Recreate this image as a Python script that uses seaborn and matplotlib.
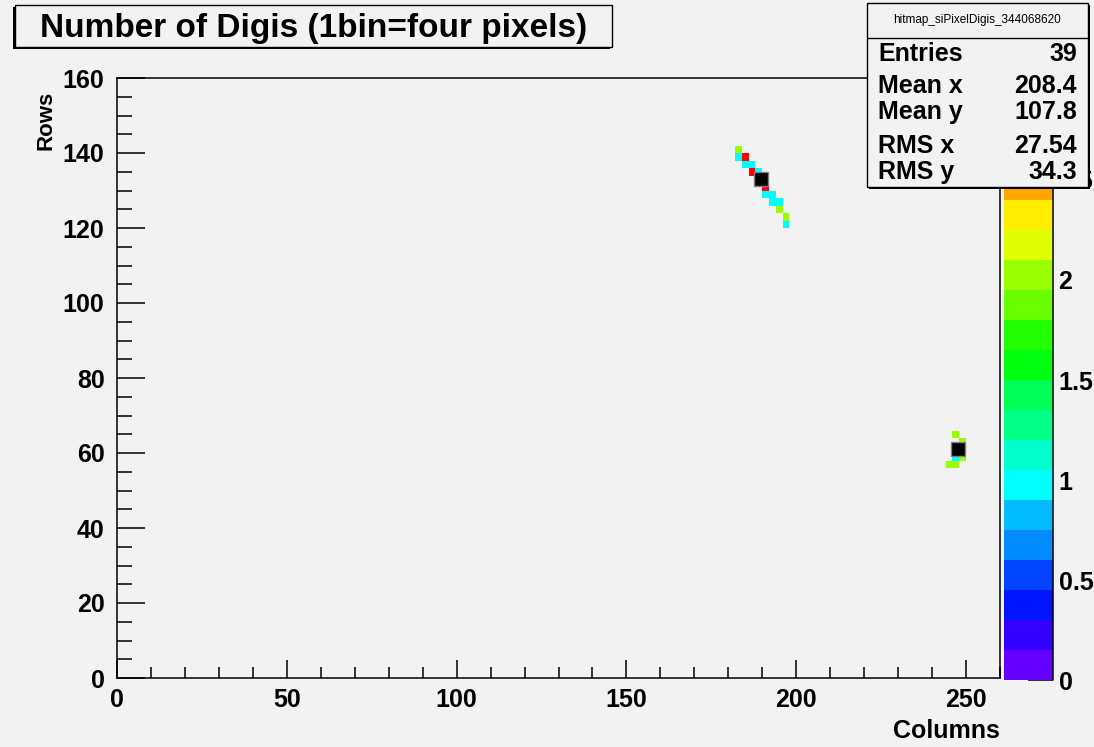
import colorsys

import numpy as np
import pandas as pd
import matplotlib
matplotlib.use("Agg")
import matplotlib.pyplot as plt
from matplotlib.colors import ListedColormap, BoundaryNorm
from matplotlib.patches import Rectangle
import seaborn as sns

# Digi hit map: lower-left corner (column, row) of each filled 2x2-pixel bin and its count
bin_col = [182, 182, 184, 184, 186, 186, 188, 188, 190, 190, 190, 192, 192, 194, 194, 196, 196,
           246, 248, 248, 248, 246, 244, 246]
bin_row = [140, 138, 138, 136, 136, 134, 134, 132, 132, 130, 128, 128, 126, 126, 124, 122, 120,
           64, 62, 60, 58, 58, 56, 56]
bin_count = [2, 1, 3, 1, 1, 3, 1, 1, 1, 3, 1, 1, 1, 1, 2, 2, 1,
             2, 2, 2, 2, 1, 2, 2]

# reconstructed cluster positions (column, row)
cluster_col = [189.5, 247.5]
cluster_row = [133.0, 61.0]

x_ticks = [0, 50, 100, 150, 200, 250]
y_ticks = [0, 20, 40, 60, 80, 100, 120, 140, 160]
z_ticks = [0, 0.5, 1, 1.5, 2, 2.5]
z_tick_labels = ["0", "0.5", "1", "1.5", "2", "2.5"]

title = "Number of Digis (1bin=four pixels)"
x_title = "Columns"
y_title = "Rows"
stats_name = "hitmap_siPixelDigis_344068620"
stats_labels = ["Entries", "Mean x", "Mean y", "RMS x", "RMS y"]
stats_values = ["39", "208.4", "107.8", "27.54", "34.3"]

N_COLS, N_ROWS, BIN = 260, 160, 2
Z_MAX, N_LEVELS = 3.0, 20

# ---------------------------------------------------------------- palette
def pretty_palette(n=50):
    """Violet -> red rainbow at fixed lightness/saturation."""
    out = []
    for i in range(n):
        hue = 280.0 - (i + 1) * 280.0 / n
        out.append(colorsys.hls_to_rgb(hue / 360.0, 0.5, 1.0))
    return out


pal = pretty_palette()
level_colors = [pal[int((k + 0.99) * len(pal) / N_LEVELS)] for k in range(N_LEVELS)]
cmap = ListedColormap(level_colors)
norm = BoundaryNorm(np.linspace(0, Z_MAX, N_LEVELS + 1), cmap.N)

# ---------------------------------------------------------------- histogram grid
grid = np.zeros((N_ROWS // BIN, N_COLS // BIN))
for c, r, v in zip(bin_col, bin_row, bin_count):
    grid[r // BIN, c // BIN] += v
hist = pd.DataFrame(grid)

# ---------------------------------------------------------------- figure
W, H = 1094, 747
BG = "#f2f2f2"
FONT = "Liberation Sans"


def fx(px):
    return px / W


def fy(py):
    return 1 - py / H


sns.set_theme(style="white")
plt.rcParams["font.family"] = [FONT, "DejaVu Sans"]
plt.rcParams["font.weight"] = "bold"
plt.rcParams["axes.labelcolor"] = "black"
plt.rcParams["text.color"] = "black"

fig = plt.figure(figsize=(W / 100, H / 100), dpi=100, facecolor=BG)
ax = fig.add_axes([fx(117), fy(678), fx(1000) - fx(117), fy(78) - fy(678)])
cax = fig.add_axes([fx(1004), fy(680), fx(1053) - fx(1004), fy(80) - fy(680)])
ax.set_facecolor(BG)

sns.heatmap(hist, mask=hist == 0, cmap=cmap, norm=norm, ax=ax, cbar_ax=cax,
            xticklabels=False, yticklabels=False)

# heatmap works in bin units; map pixel values onto it
ax.set_xlim(0, N_COLS / BIN)
ax.set_ylim(0, N_ROWS / BIN)
ax.set_xticks([t / BIN for t in x_ticks])
ax.set_xticklabels([str(t) for t in x_ticks])
ax.set_xticks(np.arange(0, N_COLS + 1, 10) / BIN, minor=True)
ax.set_yticks([t / BIN for t in y_ticks])
ax.set_yticklabels([str(t) for t in y_ticks], rotation=0)
ax.set_yticks(np.arange(0, N_ROWS + 1, 5) / BIN, minor=True)

for s in ax.spines.values():
    s.set_visible(True)
    s.set_color("black")
    s.set_linewidth(1.1)

ax.tick_params(axis="x", which="major", direction="in", length=13, width=1.1,
               labelsize=18, pad=7, color="black", bottom=True)
ax.tick_params(axis="x", which="minor", direction="in", length=8, width=1.1,
               color="black", bottom=True)
ax.tick_params(axis="y", which="major", direction="in", length=20, width=1.1,
               labelsize=18, pad=9, color="black", left=True)
ax.tick_params(axis="y", which="minor", direction="in", length=11, width=1.1,
               color="black", left=True)
for lab in ax.get_xticklabels() + ax.get_yticklabels():
    lab.set_fontweight("bold")
    lab.set_color("black")

ax.set_xlabel(x_title, loc="right", fontsize=18, fontweight="bold", labelpad=5,
              color="black")
ax.set_ylabel(y_title, fontsize=16, fontweight="bold", color="black")
ax.yaxis.set_label_coords(-0.068, 0.979, transform=ax.transAxes)
ax.yaxis.label.set_horizontalalignment("right")

# cluster markers
ax.scatter([c / BIN for c in cluster_col], [r / BIN for r in cluster_row],
           marker="s", s=100, color="black", edgecolor="#808080", linewidth=1.0, zorder=5)

# ---------------------------------------------------------------- colour scale
cax.set_yticks(z_ticks)
cax.set_yticklabels(z_tick_labels)
cax.yaxis.set_ticks_position("right")
cax.tick_params(axis="y", which="both", direction="in", length=18, width=1.1,
                labelsize=18, pad=4, color="black", right=True)
cax.minorticks_off()
for lab in cax.get_yticklabels():
    lab.set_fontweight("bold")
    lab.set_color("black")
cax.plot([1, 1], [0, Z_MAX], color="black", lw=1.1, clip_on=False,
         transform=cax.get_yaxis_transform(), zorder=10)

# ---------------------------------------------------------------- title box
def boxed(x0, y0, x1, y1, sdx, sdy):
    fig.patches.append(Rectangle((fx(x0 + sdx), fy(y1 + sdy)), fx(x1) - fx(x0), fy(y0) - fy(y1),
                                 transform=fig.transFigure, facecolor="black",
                                 edgecolor="none", zorder=20))
    fig.patches.append(Rectangle((fx(x0), fy(y1)), fx(x1) - fx(x0), fy(y0) - fy(y1),
                                 transform=fig.transFigure, facecolor=BG,
                                 edgecolor="black", linewidth=1.0, zorder=21))


boxed(15, 5, 612, 47, -2, 2)
fig.text(fx(314), fy(28), title, ha="center", va="center", fontsize=24,
         fontweight="bold", color="black", zorder=22)

# ---------------------------------------------------------------- statistics box
boxed(867, 3, 1088, 187, 2, 2)
fig.add_artist(plt.Line2D([fx(867), fx(1088)], [fy(38), fy(38)], color="black",
                          lw=1.0, transform=fig.transFigure, zorder=22))
fig.text(fx(977), fy(20), stats_name, ha="center", va="center", fontsize=8.5,
         fontweight="normal", color="black", zorder=22)
row_y = [54, 86, 112, 146, 172]
for yy, lab, val in zip(row_y, stats_labels, stats_values):
    fig.text(fx(878), fy(yy), lab, ha="left", va="center", fontsize=18,
             fontweight="bold", color="black", zorder=22)
    fig.text(fx(1077), fy(yy), val, ha="right", va="center", fontsize=18,
             fontweight="bold", color="black", zorder=22)

fig.savefig("out.png", dpi=100, facecolor=BG)
